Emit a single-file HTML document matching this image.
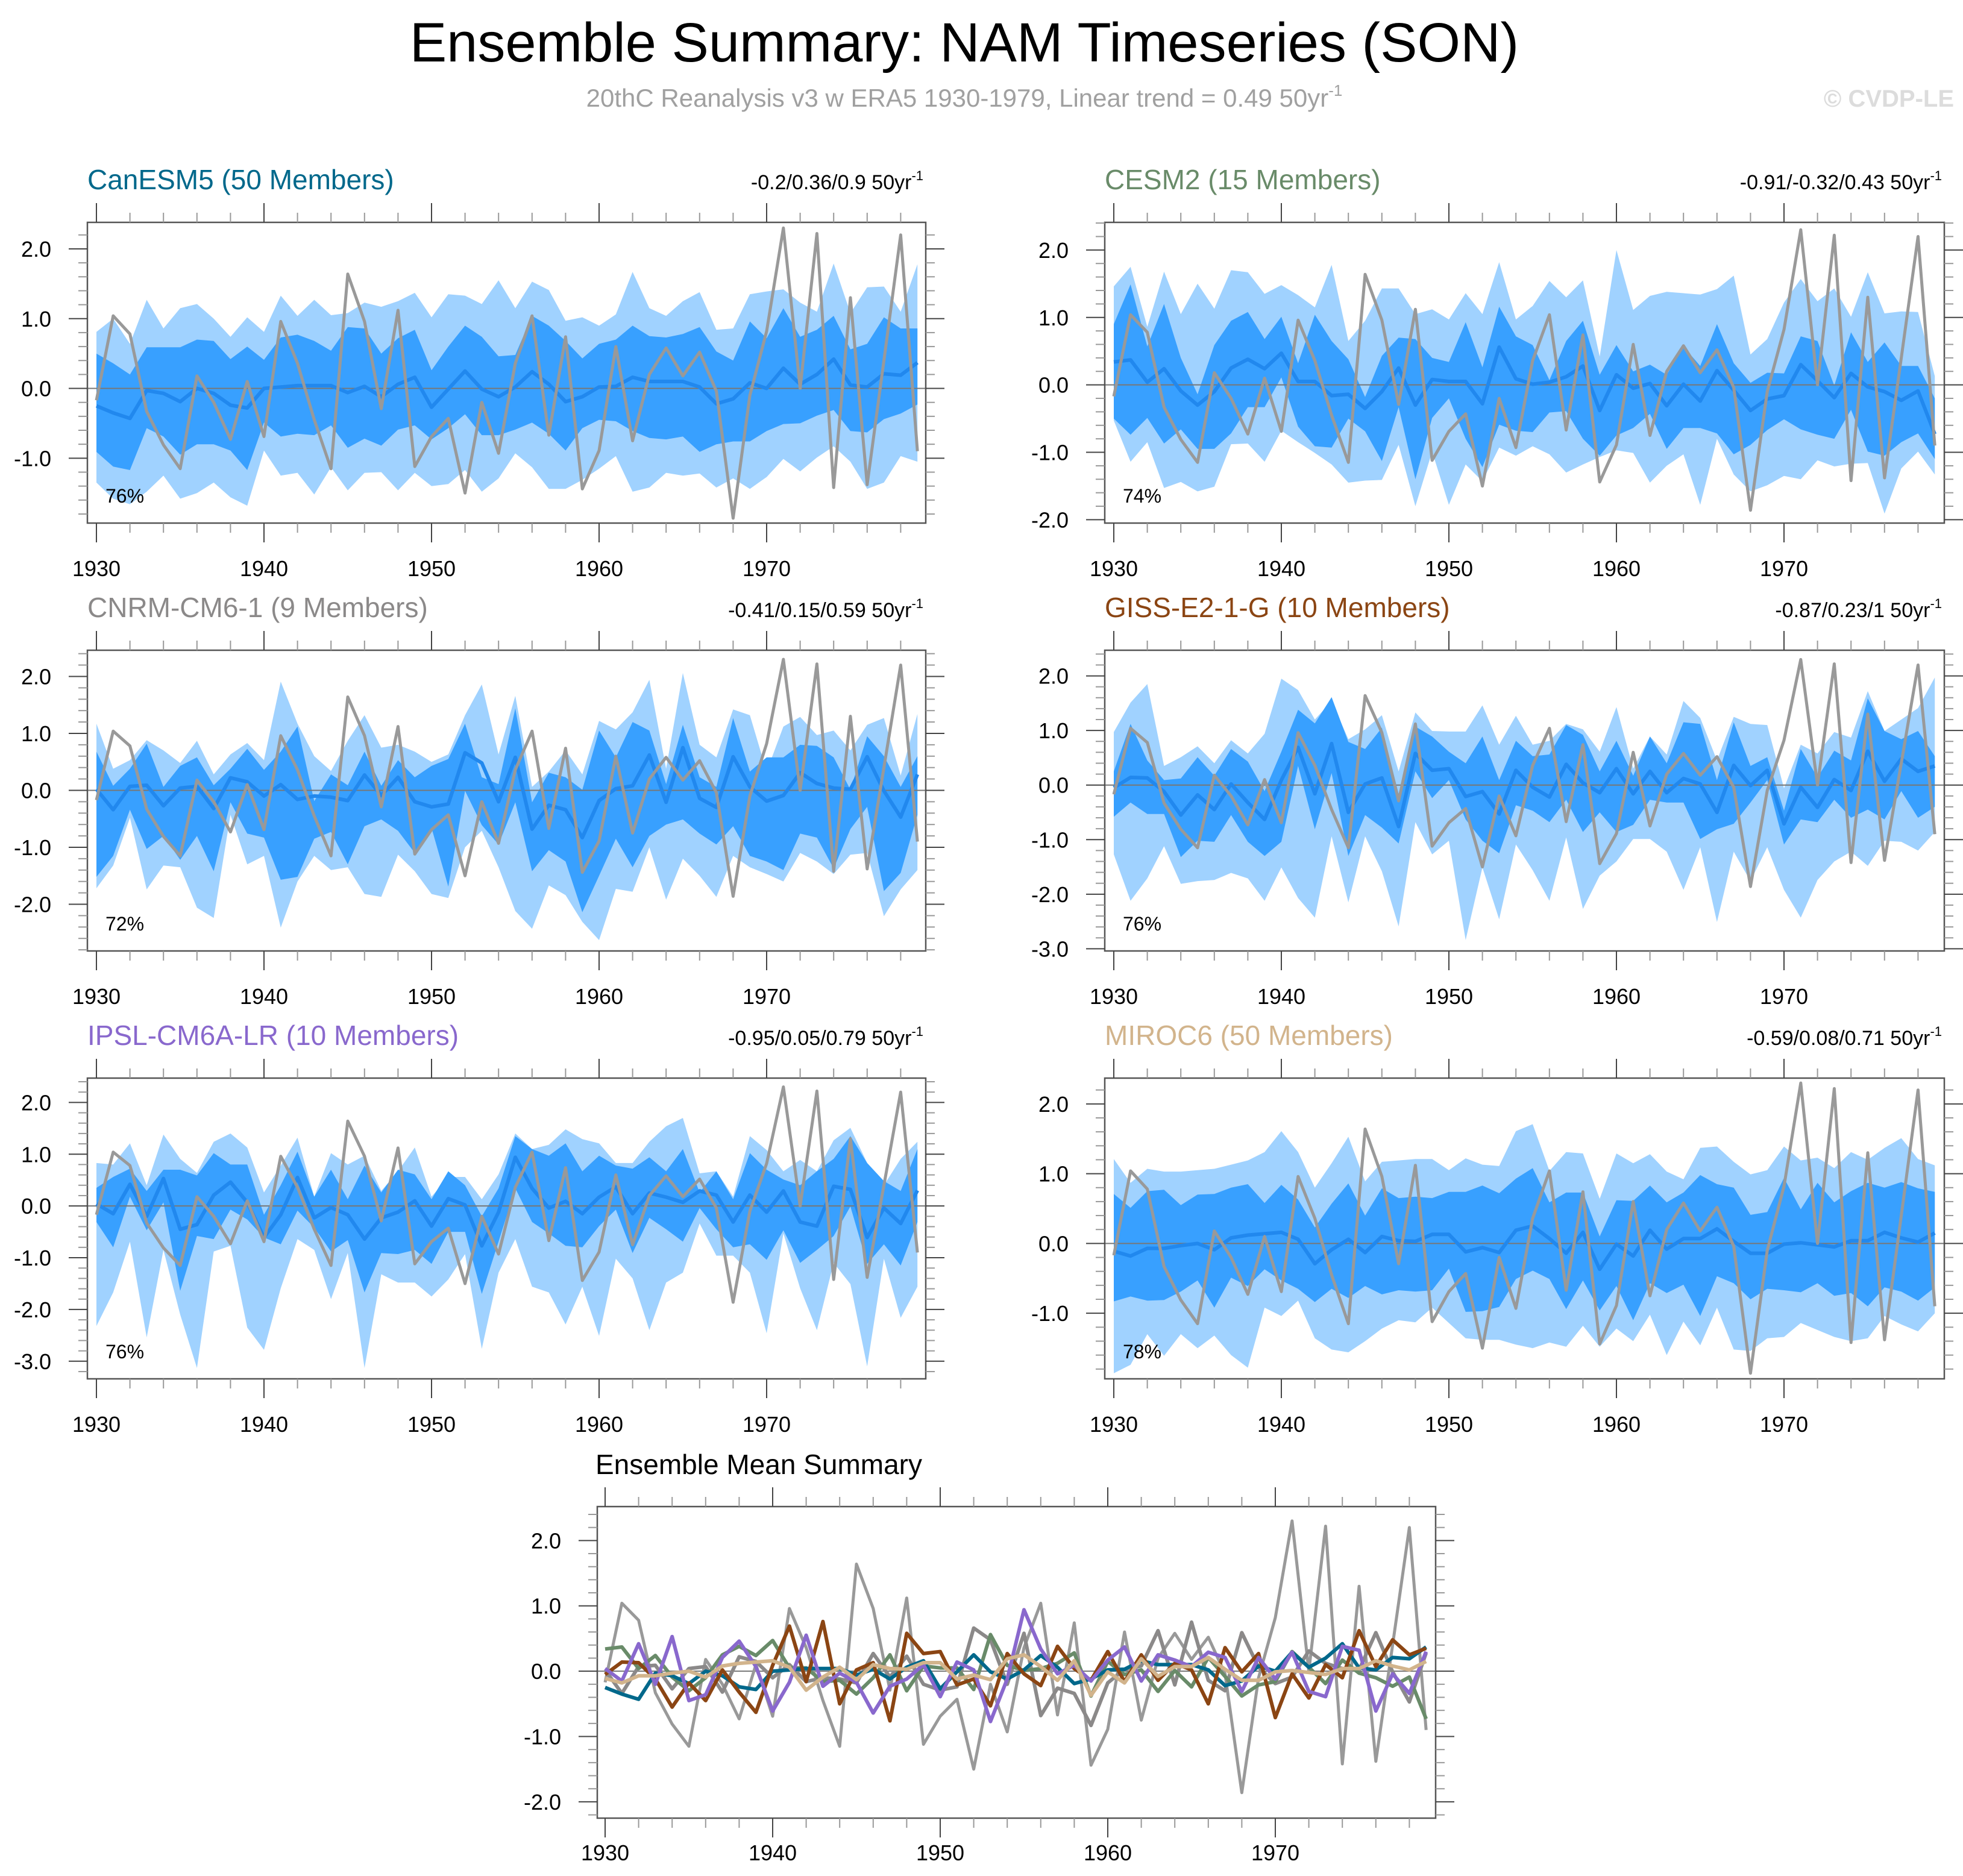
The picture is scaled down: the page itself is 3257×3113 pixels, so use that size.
<!DOCTYPE html>
<html><head><meta charset="utf-8"><title>Ensemble Summary: NAM Timeseries (SON)</title>
<style>html,body{margin:0;padding:0;background:#fff}svg{display:block}text{font-family:"Liberation Sans",sans-serif}</style>
</head><body>
<svg id="chart" xmlns="http://www.w3.org/2000/svg" width="3257" height="3113" viewBox="0 0 3257 3113">
<rect width="3257" height="3113" fill="#fff"/>
<text x="1600" y="102" font-size="92" text-anchor="middle" fill="#000">Ensemble Summary: NAM Timeseries (SON)</text>
<text x="1600" y="177" font-size="42" text-anchor="middle" fill="#a0a0a0">20thC Reanalysis v3 w ERA5 1930-1979, Linear trend = 0.49 50yr<tspan dy="-18" font-size="26">-1</tspan></text>
<text x="3242" y="177" font-size="40" font-weight="bold" text-anchor="end" fill="#dcdcdc">© CVDP-LE</text>
<g id="plots"></g>
</svg>
<script>
const obs = [-0.17,1.04,0.78,-0.33,-0.81,-1.15,0.18,-0.2,-0.73,0.1,-0.69,0.96,0.36,-0.45,-1.15,1.64,0.96,-0.29,1.12,-1.12,-0.69,-0.43,-1.5,-0.2,-0.93,0.36,1.04,-0.67,0.74,-1.44,-0.89,0.6,-0.75,0.2,0.58,0.18,0.52,-0.04,-1.86,-0.1,0.82,2.3,0.0,2.22,-1.42,1.3,-1.38,0.4,2.2,-0.9];

const canesm5Mean = [-0.25,-0.35,-0.43,-0.03,-0.07,-0.19,0,-0.07,-0.24,-0.28,0,0.02,0.04,0.04,0.04,-0.06,0.03,-0.12,0.06,0.16,-0.27,-0.01,0.25,-0.01,-0.12,0.02,0.24,0.06,-0.19,-0.12,0.02,0.03,0.16,0.1,0.1,0.1,0.02,-0.22,-0.15,0.08,0,0.29,0.06,0.2,0.42,0.05,0.02,0.21,0.19,0.37];
const canesm5InnerHi = [0.5,0.36,0.2,0.59,0.59,0.59,0.7,0.68,0.42,0.6,0.41,0.73,0.77,0.68,0.54,0.88,0.86,0.5,0.72,0.84,0.26,0.6,0.9,0.74,0.46,0.48,1.04,0.9,0.68,0.43,0.64,0.7,0.9,0.75,0.73,0.78,0.88,0.53,0.4,0.96,0.72,1.15,0.74,0.84,1.04,0.56,0.64,1.02,0.86,0.86];
const canesm5InnerLo = [-0.91,-1.12,-1.17,-0.57,-0.69,-0.95,-0.8,-0.8,-0.89,-1.17,-0.49,-0.69,-0.65,-0.67,-0.53,-0.85,-0.72,-0.82,-0.59,-0.53,-0.73,-0.57,-0.37,-0.67,-0.67,-0.59,-0.49,-0.65,-0.89,-0.57,-0.45,-0.47,-0.61,-0.71,-0.73,-0.69,-0.91,-0.8,-0.76,-0.76,-0.61,-0.51,-0.5,-0.39,-0.31,-0.61,-0.63,-0.44,-0.36,-0.23];
const canesm5OuterHi = [0.81,1.0,0.64,1.27,0.86,1.15,1.21,1.0,0.74,1.02,0.81,1.33,1.04,1.27,1.05,1.08,1.23,1.17,1.25,1.37,1.02,1.35,1.33,1.21,1.55,1.15,1.53,1.41,0.97,1.02,0.9,1.06,1.67,1.15,1.04,1.25,1.38,0.84,0.86,1.35,1.39,1.42,1.23,1.1,1.79,1.08,1.45,1.46,1.1,1.78];
const canesm5OuterLo = [-1.35,-1.58,-1.66,-1.48,-1.25,-1.58,-1.5,-1.35,-1.56,-1.68,-0.89,-1.25,-1.21,-1.52,-1.13,-1.46,-1.21,-1.2,-1.46,-1.21,-1.4,-1.37,-1.17,-1.48,-1.29,-0.93,-1.13,-1.44,-1.44,-1.31,-1.15,-0.97,-1.48,-1.42,-1.21,-1.25,-1.22,-1.42,-1.29,-1.44,-1.27,-1.01,-1.19,-0.99,-0.83,-1.05,-1.44,-1.35,-0.97,-1.05];

const cesm2Mean = [0.34,0.37,0.04,0.24,-0.09,-0.3,-0.1,0.25,0.38,0.24,0.47,0.05,0.05,-0.16,-0.14,-0.35,-0.1,0.25,-0.3,0.08,0.05,0.05,-0.28,0.56,0.09,0.01,0.04,0.12,0.28,-0.38,0.15,-0.05,0.02,-0.31,0.01,-0.24,0.21,-0.08,-0.38,-0.21,-0.16,0.3,0.06,-0.19,0.17,-0.03,-0.1,-0.23,-0.09,-0.73];
const cesm2InnerHi = [0.9,1.49,0.57,1.2,0.4,-0.14,0.59,0.95,1.08,0.68,1.01,0.32,1.04,0.65,0.38,-0.18,0.43,0.7,0.68,0.4,0.34,0.93,0.26,1.16,0.72,0.59,0.07,0.65,0.95,0.15,0.59,0.2,0.3,0.15,0.57,0.28,0.9,0.32,0.03,0.18,0.17,0.72,0.65,-0.01,0.78,0.34,0.63,0.28,0.28,-0.2];
const cesm2InnerLo = [-0.5,-0.74,-0.49,-0.87,-0.66,-0.95,-0.95,-0.72,-0.33,-0.33,0.11,-0.62,-0.91,-0.93,-0.5,-0.69,-1.13,-0.33,-1.4,-0.49,-0.2,-0.8,-1.22,-0.59,-0.68,-0.7,-0.41,-0.39,-0.8,-1.05,-0.75,-0.64,-0.43,-0.95,-0.64,-0.64,-0.72,-1.03,-0.89,-0.67,-0.51,-0.66,-0.74,-0.8,-0.37,-0.99,-1.05,-0.85,-0.72,-1.1];
const cesm2OuterHi = [1.46,1.75,0.86,1.68,1.05,1.5,1.13,1.7,1.67,1.35,1.48,1.33,1.15,1.78,0.65,0.95,1.43,1.43,1.05,1.12,0.97,1.36,1.05,1.82,0.97,1.17,1.54,1.3,1.55,0.42,2.0,1.11,1.32,1.38,1.36,1.34,1.42,1.62,0.45,0.68,1.22,1.57,1.24,1.43,1.01,1.67,1.06,1.09,1.08,0.13];
const cesm2OuterLo = [-0.53,-1.14,-0.85,-1.53,-1.44,-1.58,-1.51,-0.88,-0.87,-1.14,-0.68,-0.85,-1.01,-1.18,-1.45,-1.42,-1.41,-0.89,-1.8,-0.99,-1.78,-1.18,-1.43,-0.93,-1.05,-0.91,-1.03,-1.3,-1.18,-1.07,-0.97,-1.01,-1.45,-1.2,-1.03,-1.78,-0.8,-1.33,-1.58,-1.49,-1.35,-1.4,-1.12,-1.21,-1.17,-1.16,-1.91,-1.24,-0.99,-1.33];

const cnrmMean = [0.02,-0.34,0.07,0.09,-0.27,0.04,0.07,-0.32,0.22,0.15,-0.1,0.1,-0.16,-0.1,-0.12,-0.18,0.27,-0.09,0.23,-0.2,-0.29,-0.24,0.66,0.48,-0.2,0.58,-0.68,-0.26,-0.34,-0.83,-0.18,0.03,0.08,0.62,-0.21,0.75,-0.14,-0.3,0.59,0.06,-0.19,-0.09,0.31,0.12,0.04,0.02,0.59,-0.01,-0.47,0.28];
const cnrmInnerHi = [0.68,0.08,0.38,0.82,0.06,0.43,0.58,0.09,0.38,0.73,0.36,0.68,1.12,-0.19,0.28,0.09,0.68,0.08,0.53,0.23,0.43,0.55,1.17,0.23,0.11,1.44,-0.21,0.31,0.23,0.01,1.05,0.58,1.2,1.05,0.11,1.15,0.23,0.06,1.27,0.33,0.58,0.58,0.8,0.78,0.58,0.01,0.95,0.6,0.06,0.6];
const cnrmInnerLo = [-1.52,-1.15,-0.34,-1.03,-0.8,-1.22,-0.8,-1.42,-0.21,-0.76,-0.83,-1.57,-1.52,-0.85,-0.73,-1.3,-0.63,-0.51,-0.71,-1.1,-0.66,-1.69,-0.01,-0.61,-0.95,-0.21,-1.42,-1.05,-1.25,-2.14,-1.5,-0.85,-1.35,-0.8,-0.6,-0.51,-0.76,-0.95,-0.63,-1.15,-1.25,-1.4,-0.76,-0.83,-1.37,-0.68,-0.29,-1.77,-1.45,-0.43];
const cnrmOuterHi = [1.17,0.38,0.53,0.88,0.7,0.48,0.87,0.28,0.63,0.83,0.53,1.91,1.17,0.6,0.34,0.87,1.32,0.75,0.8,0.68,0.5,0.63,1.32,1.86,0.63,1.66,0.06,0.33,0.7,0.28,1.22,1.07,1.37,1.94,0.38,2.06,0.8,0.58,1.42,1.32,0.33,1.12,1.29,0.97,1.05,0.7,1.15,1.27,0.26,1.34];
const cnrmOuterLo = [-1.72,-1.32,-0.48,-1.74,-1.32,-1.35,-2.06,-2.24,-0.43,-1.3,-1.15,-2.41,-1.6,-1.15,-1.4,-1.35,-1.82,-1.87,-1.13,-1.42,-1.82,-1.89,-1.0,-0.71,-1.35,-2.12,-2.43,-1.67,-1.84,-2.31,-2.63,-1.73,-1.78,-1.0,-1.92,-1.2,-1.5,-1.87,-1.15,-1.35,-1.47,-1.6,-1.1,-1.25,-1.47,-1.13,-1.1,-2.21,-1.74,-1.4];

const gissMean = [-0.05,0.14,0.13,-0.12,-0.55,-0.18,-0.45,0.02,-0.32,-0.63,0.09,0.69,-0.16,0.76,-0.5,0.02,0.13,-0.76,0.58,0.27,0.3,-0.21,-0.12,-0.53,0.27,-0.04,-0.22,0.38,0.04,-0.14,0.3,-0.16,0.25,-0.14,0.12,0.02,-0.5,0.36,-0.01,0.27,-0.71,-0.04,-0.41,0.1,-0.1,0.62,0.07,0.48,0.25,0.35];
const gissInnerHi = [0.25,1.12,0.45,0.09,0.12,0.51,0.17,0.66,0.43,-0.11,0.61,1.38,1.13,1.61,0.79,0.66,1.05,-0.16,1.07,0.89,0.61,0.4,0.89,0.09,0.81,0.53,0.56,1.1,0.92,0.25,0.81,0.17,0.89,0.4,1.15,1.12,0.09,1.15,0.35,0.51,-0.47,0.66,0.14,0.63,0.45,1.59,0.99,0.84,0.99,0.53];
const gissInnerLo = [-0.58,-0.32,-0.53,-0.53,-1.32,-1.02,-1.04,-0.55,-1.04,-1.3,-1.04,0.35,-0.81,0.22,-1.3,-0.55,-0.78,-1.07,0.25,-0.24,0.09,-0.63,-1.02,-1.25,-0.37,-0.47,-0.68,-0.27,-0.86,-0.5,-0.86,-0.73,-0.27,-0.32,-0.32,-0.99,-0.81,-0.71,-0.32,0.09,-1.09,-0.63,-0.68,-0.27,-0.6,-0.45,-0.63,-0.11,-0.6,-0.4];
const gissOuterHi = [0.97,1.51,1.85,0.35,0.51,0.71,0.4,0.82,0.58,0.94,1.95,1.74,1.2,1.54,0.84,1.02,1.28,0.25,1.33,0.99,0.98,0.98,1.46,0.74,1.27,0.74,0.81,1.12,1.02,0.61,1.43,0.3,0.89,0.56,1.54,1.23,0.45,1.25,1.12,1.1,-0.06,0.74,0.58,0.97,0.87,1.72,0.99,1.2,1.41,1.97];
const gissOuterLo = [-1.27,-2.12,-1.71,-1.12,-1.81,-1.76,-1.74,-1.61,-1.71,-2.12,-1.51,-2.07,-2.43,-0.94,-2.15,-0.94,-1.58,-2.59,-0.68,-1.27,-1.02,-2.84,-1.51,-2.46,-1.09,-1.56,-2.12,-0.96,-2.27,-1.66,-1.4,-0.99,-0.99,-1.22,-1.92,-1.14,-2.51,-1.22,-1.76,-1.14,-1.92,-2.43,-1.74,-1.4,-1.22,-1.48,-1.02,-1.04,-1.2,-0.86];

const ipslMean = [0.04,-0.15,0.42,-0.2,0.53,-0.45,-0.36,0.21,0.46,0.07,-0.61,-0.17,0.55,-0.23,-0.03,-0.17,-0.64,-0.23,-0.12,0.1,-0.39,0.14,0.02,-0.77,-0.12,0.94,0.34,-0.04,0.09,-0.15,0.17,0.37,-0.15,0.25,0.17,0.07,0.29,0.21,-0.31,0.21,-0.12,0.29,-0.31,-0.39,0.38,0.32,-0.61,-0.04,-0.34,0.3];
const ipslInnerHi = [0.35,0.56,0.72,0.29,0.7,0.7,0.59,1.02,0.8,0.8,-0.17,0.4,1.05,0.18,0.7,0.13,0.78,0.26,0.7,0.61,0.13,0.67,0.4,-0.2,0.34,1.35,1.1,0.97,1.21,0.67,0.97,0.78,0.72,0.94,0.67,1.1,0.26,0.67,0.13,1.02,0.7,0.51,0.4,0.67,0.91,1.35,0.83,0.48,0.29,1.1];
const ipslInnerLo = [-0.31,-0.8,0.18,-0.47,0.07,-1.64,-0.58,-0.64,-0.07,-0.26,-0.61,-0.74,-0.09,-0.42,-0.88,-0.66,-1.67,-0.91,-0.93,-0.85,-1.12,-0.5,-0.5,-1.7,-0.69,0.34,-0.31,-0.53,-0.77,-0.8,-0.39,-0.07,-0.91,-0.23,-0.45,-0.69,-0.04,-0.45,-0.8,-0.74,-1.04,-0.47,-1.1,-0.85,-0.58,-0.01,-1.12,-0.74,-1.15,-0.31];
const ipslOuterHi = [0.83,0.8,1.21,0.4,1.38,0.91,0.64,1.24,1.4,1.13,0.26,0.78,1.32,0.18,1.02,0.8,0.97,0.29,0.67,1.13,0.18,0.56,0.56,0.13,0.61,1.4,1.1,1.18,1.48,1.29,1.21,0.83,0.83,1.24,1.54,1.7,0.63,0.67,0.18,1.35,1.08,0.67,0.89,0.67,1.27,1.51,0.83,0.4,0.91,1.24];
const ipslOuterLo = [-2.32,-1.67,-0.69,-2.54,-0.85,-2.1,-3.13,-0.88,-0.77,-2.35,-2.78,-1.59,-0.64,-0.85,-1.8,-0.91,-3.13,-1.32,-1.48,-1.48,-1.75,-1.42,-0.93,-2.76,-1.29,-0.64,-1.56,-1.67,-2.29,-1.56,-2.51,-1.02,-1.4,-2.4,-1.48,-1.29,-0.34,-0.96,-0.96,-1.29,-2.46,-0.53,-1.59,-2.4,-1.1,-1.51,-3.1,-1.02,-2.16,-1.56];

const mirocMean = [-0.11,-0.18,-0.07,-0.07,-0.03,0,-0.09,0.08,0.12,0.14,0.16,0.06,-0.29,-0.09,0.06,-0.13,0.1,0.04,0.03,0.13,0.13,-0.12,-0.06,-0.13,0.19,0.25,0.07,-0.14,0.16,-0.37,-0.01,-0.18,0.19,-0.08,0.07,0.07,0.21,0.03,-0.14,-0.14,-0.01,0.01,-0.02,-0.05,0.04,0.04,0.16,0.08,0.02,0.15];
const mirocInnerHi = [0.71,0.51,0.75,0.77,0.55,0.7,0.71,0.8,0.85,0.58,0.84,0.63,0.23,0.57,0.86,0.4,0.79,0.65,0.67,0.65,0.74,0.74,0.83,0.72,0.93,1.08,0.59,0.73,0.73,0.1,0.62,0.61,0.83,0.59,0.73,0.98,0.85,0.8,0.41,0.45,0.94,0.49,0.87,0.59,0.75,0.87,0.8,0.88,0.79,0.74];
const mirocInnerLo = [-0.83,-0.76,-0.82,-0.81,-0.69,-0.53,-0.92,-0.49,-0.61,-0.37,-0.53,-0.65,-0.84,-0.65,-0.78,-0.61,-0.73,-0.67,-0.69,-0.67,-0.36,-0.98,-0.97,-0.91,-0.51,-0.39,-0.51,-0.94,-0.53,-0.96,-0.61,-1.1,-0.57,-0.71,-0.59,-1.04,-0.47,-0.57,-0.8,-0.65,-0.67,-0.7,-0.57,-0.75,-0.71,-0.9,-0.63,-0.69,-0.82,-0.63];
const mirocOuterHi = [1.21,0.87,1.07,1.03,1.03,1.05,1.07,1.13,1.19,1.31,1.61,1.31,0.8,1.15,1.53,0.89,1.17,1.19,1.21,1.21,1.05,1.22,1.13,1.11,1.61,1.71,1.04,1.31,1.29,0.64,1.29,1.15,1.28,1.03,0.92,1.37,1.39,1.17,0.99,1.05,1.39,1.19,1.23,1.08,1.31,1.2,1.37,1.51,1.21,1.12];
const mirocOuterLo = [-1.86,-1.74,-1.3,-1.61,-1.3,-1.5,-1.32,-1.6,-1.78,-0.92,-1.04,-0.82,-1.36,-1.52,-1.56,-1.4,-1.22,-1.1,-1.13,-0.92,-1.14,-1.36,-1.38,-1.38,-1.45,-1.5,-1.42,-1.48,-1.18,-1.48,-1.22,-1.4,-1.02,-1.6,-1.12,-1.46,-0.92,-1.52,-1.54,-1.36,-1.34,-1.14,-1.24,-1.34,-1.4,-1.36,-1.04,-1.16,-1.26,-1.0];

const xTickLabels = ["1930","1940","1950","1960","1970"];
const startYear = 1930;

const NS = "http://www.w3.org/2000/svg";
const root = document.getElementById("plots");
function mk(tag, attrs, parent){
  const e = document.createElementNS(NS, tag);
  for (const k in attrs) e.setAttribute(k, attrs[k]);
  (parent||root).appendChild(e);
  return e;
}

const panels = [
  {key:"canesm5", title:"CanESM5 (50 Members)", color:"#00688B", trend:"-0.2/0.36/0.9 50yr", pct:"76%",
   mean:canesm5Mean, ih:canesm5InnerHi, il:canesm5InnerLo, oh:canesm5OuterHi, ol:canesm5OuterLo,
   fx:145, fy:369, fw:1391, fh:499, ymax:2.38, ymin:-1.93, yt:[-1,0,1,2]},
  {key:"cesm2", title:"CESM2 (15 Members)", color:"#698B69", trend:"-0.91/-0.32/0.43 50yr", pct:"74%",
   mean:cesm2Mean, ih:cesm2InnerHi, il:cesm2InnerLo, oh:cesm2OuterHi, ol:cesm2OuterLo,
   fx:1833, fy:369, fw:1393, fh:499, ymax:2.41, ymin:-2.05, yt:[-2,-1,0,1,2]},
  {key:"cnrm", title:"CNRM-CM6-1 (9 Members)", color:"#8B8989", trend:"-0.41/0.15/0.59 50yr", pct:"72%",
   mean:cnrmMean, ih:cnrmInnerHi, il:cnrmInnerLo, oh:cnrmOuterHi, ol:cnrmOuterLo,
   fx:145, fy:1079, fw:1391, fh:499, ymax:2.46, ymin:-2.82, yt:[-2,-1,0,1,2]},
  {key:"giss", title:"GISS-E2-1-G (10 Members)", color:"#8B4513", trend:"-0.87/0.23/1 50yr", pct:"76%",
   mean:gissMean, ih:gissInnerHi, il:gissInnerLo, oh:gissOuterHi, ol:gissOuterLo,
   fx:1833, fy:1079, fw:1393, fh:499, ymax:2.47, ymin:-3.04, yt:[-3,-2,-1,0,1,2]},
  {key:"ipsl", title:"IPSL-CM6A-LR (10 Members)", color:"#8968CD", trend:"-0.95/0.05/0.79 50yr", pct:"76%",
   mean:ipslMean, ih:ipslInnerHi, il:ipslInnerLo, oh:ipslOuterHi, ol:ipslOuterLo,
   fx:145, fy:1789, fw:1391, fh:499, ymax:2.47, ymin:-3.34, yt:[-3,-2,-1,0,1,2]},
  {key:"miroc6", title:"MIROC6 (50 Members)", color:"#D2B48C", trend:"-0.59/0.08/0.71 50yr", pct:"78%",
   mean:mirocMean, ih:mirocInnerHi, il:mirocInnerLo, oh:mirocOuterHi, ol:mirocOuterLo,
   fx:1833, fy:1789, fw:1393, fh:499, ymax:2.37, ymin:-1.94, yt:[-1,0,1,2]}
];

function axes(cfg){
  const X = yr => cfg.fx + 15 + (yr - startYear) * 27.8;
  const Y = v => cfg.fy + (cfg.ymax - v) / (cfg.ymax - cfg.ymin) * cfg.fh;
  return {X, Y};
}

function drawFrame(cfg, g, X, Y, labelGap, xLabelOff){
  const zl = mk("line", {x1:cfg.fx, x2:cfg.fx+cfg.fw, y1:Y(0), y2:Y(0), stroke:"#777", "stroke-width":2}, g);
  
  
  const fr = mk("rect", {x:cfg.fx, y:cfg.fy, width:cfg.fw, height:cfg.fh, fill:"none", stroke:"#555", "stroke-width":2.5}, g);
  
  
  const bot = cfg.fy + cfg.fh;
  for (let i = 0; i < 50; i += 2){
    const yr = startYear + i, x = X(yr), major = (yr % 10 === 0), L = major ? 32 : 16, c = major ? "#444" : "#999";
    const t1 = mk("line", {x1:x, x2:x, y1:cfg.fy, y2:cfg.fy-L, stroke:c, "stroke-width":2}, g);
    
    
    const t2 = mk("line", {x1:x, x2:x, y1:bot, y2:bot+L, stroke:c, "stroke-width":2}, g);
    
    
  }
  xTickLabels.forEach(s => {
    const t = mk("text", {x:X(+s), y:bot+xLabelOff, "font-size":36, "text-anchor":"middle", fill:"#000"}, g);
    t.textContent = s;
    
    
  });
  for (let k = Math.ceil(cfg.ymin*5); k <= Math.floor(cfg.ymax*5); k++){
    const v = k/5, y = Y(v), major = (k % 5 === 0), L = major ? 31 : 15, c = major ? "#444" : "#999";
    const a = mk("line", {x1:cfg.fx, x2:cfg.fx-L, y1:y, y2:y, stroke:c, "stroke-width":2}, g);
    
    
    const b = mk("line", {x1:cfg.fx+cfg.fw, x2:cfg.fx+cfg.fw+L, y1:y, y2:y, stroke:c, "stroke-width":2}, g);
    
    
  }
  cfg.yt.forEach(v => {
    const t = mk("text", {x:cfg.fx-labelGap, y:Y(v)+13, "font-size":36, "text-anchor":"end", fill:"#000"}, g);
    t.textContent = v.toFixed(1);
    
    
  });
}

function lineD(arr, X, Y){
  return arr.map((v,i) => (i?"L":"M") + X(startYear+i).toFixed(1) + "," + Y(v).toFixed(1)).join("");
}
function bandD(hi, lo, X, Y){
  let d = hi.map((v,i) => (i?"L":"M") + X(startYear+i).toFixed(1) + "," + Y(v).toFixed(1)).join("");
  for (let i = lo.length-1; i >= 0; i--) d += "L" + X(startYear+i).toFixed(1) + "," + Y(lo[i]).toFixed(1);
  return d + "Z";
}

panels.forEach(cfg => {
  const g = mk("g", {});
  
  
  const {X, Y} = axes(cfg);
  const ob = mk("path", {d:bandD(cfg.oh, cfg.ol, X, Y), fill:"#a0d2ff", stroke:"none"}, g);
  
  
  const ib = mk("path", {d:bandD(cfg.ih, cfg.il, X, Y), fill:"#38a0ff", stroke:"none"}, g);
  
  
  drawFrame(cfg, g, X, Y, 60, 88);
  const ml = mk("path", {d:lineD(cfg.mean, X, Y), fill:"none", stroke:"#2188ee", "stroke-width":6, "stroke-linejoin":"round"}, g);
  
  
  const ol = mk("path", {d:lineD(obs, X, Y), fill:"none", stroke:"#999", "stroke-width":5, "stroke-linejoin":"round"}, g);
  
  
  const tt = mk("text", {x:cfg.fx, y:cfg.fy-55, "font-size":46, fill:cfg.color}, g);
  tt.textContent = cfg.title;
  
  
  const tr = mk("text", {x:cfg.fx+cfg.fw-4, y:cfg.fy-55, "font-size":34, "text-anchor":"end", fill:"#000"}, g);
  tr.textContent = cfg.trend;
  const sup = mk("tspan", {dy:-15, "font-size":22}, tr);
  sup.textContent = "-1";
  
  
  const pc = mk("text", {x:cfg.fx+30, y:cfg.fy+cfg.fh-34, "font-size":32, fill:"#000"}, g);
  pc.textContent = cfg.pct;
  
  
});

const sum = {fx:991, fy:2500, fw:1391, fh:517, ymax:2.52, ymin:-2.25, yt:[-2,-1,0,1,2]};
const sg = mk("g", {});


const SX = yr => 1004 + (yr - startYear) * 27.8;
const SY = v => sum.fy + (sum.ymax - v) / (sum.ymax - sum.ymin) * sum.fh;
drawFrame(sum, sg, SX, SY, 60, 70);
const st = mk("text", {x:988, y:2446, "font-size":46, fill:"#000"}, sg);
st.textContent = "Ensemble Mean Summary";


const so = mk("path", {d:lineD(obs, SX, SY), fill:"none", stroke:"#999", "stroke-width":5, "stroke-linejoin":"round"}, sg);


[2,1,0,3,4,5].forEach(i => {
  const p = panels[i];
  const l = mk("path", {d:lineD(p.mean, SX, SY), fill:"none", stroke:p.color, "stroke-width":6, "stroke-linejoin":"round"}, sg);
  
  
});
</script>
</body></html>
